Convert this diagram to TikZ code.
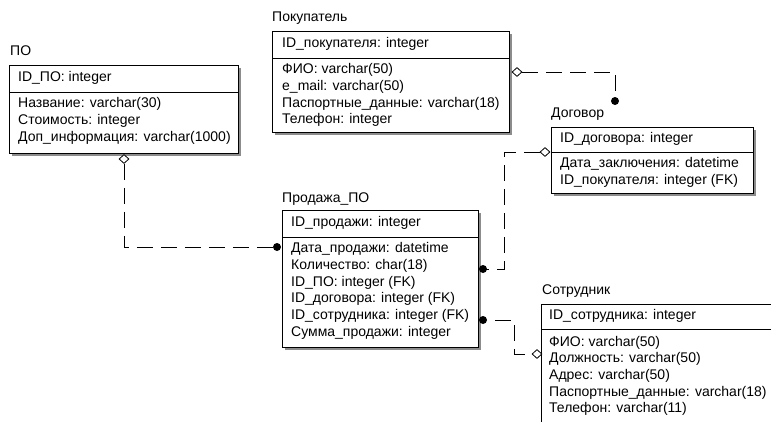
\documentclass[tikz,border=0pt]{standalone}
\usepackage{fontspec}
\setmainfont{Liberation Sans}
\usetikzlibrary{shapes.geometric}
\pgfdeclarelayer{paper}
\pgfdeclarelayer{links}
\pgfsetlayers{paper,links,main}

% entity box: name, left, top, width, height, y of the key divider
\newcommand\erbox[6]{%
  \fill[boxshadow] (#2+3,#3+3) rectangle ++(#4,#5);
  \node[ent, minimum width=#4pt, minimum height=#5pt] (#1) at (#2,#3) {};
  \draw[line width=1pt] (#2,#6) -- ++(#4,0);
}

\begin{document}
\begin{tikzpicture}[x=1pt,y=-1pt,
  every node/.style={font=\fontsize{14}{16}\selectfont},
  lbl/.style={anchor=mid west, inner sep=0pt},
  ent/.style={draw=black, fill=white, line width=1pt, anchor=north west, inner sep=0pt, outer sep=0pt},
  boxshadow/.style={fill=black!45},
  rel/.style={line width=1pt, dash pattern=on 16pt off 8pt},
  fkdot/.style={circle, fill=black, inner sep=0pt, minimum size=8pt},
  fkdiam/.style={diamond, draw=black, fill=white, line width=0.8pt, inner sep=0pt, minimum width=10pt, minimum height=9pt},
]
\clip (0,0) rectangle (771,421);
\begin{pgfonlayer}{paper}
  \fill[white] (0,0) rectangle (771,421);
\end{pgfonlayer}

% ---- ПО
\erbox{po}{9}{65}{229}{88}{92}
\node[lbl] (po-t) at (10,53) {ПО};
\node[lbl] (po-k) at (18,78.5) {ID\_ПО: integer};
\node[lbl] (po-1) at (18,105) {Название: varchar(30)};
\node[lbl] (po-2) at (18,121.7) {Стоимость: integer};
\node[lbl] (po-3) at (18,138.4) {Доп\_информация: varchar(1000)};

% ---- Покупатель
\erbox{buyer}{272}{31}{237}{101}{58}
\node[lbl] (buyer-t) at (272,19) {Покупатель};
\node[lbl] (buyer-k) at (282,44.5) {ID\_покупателя: integer};
\node[lbl] (buyer-1) at (282,71) {ФИО: varchar(50)};
\node[lbl] (buyer-2) at (282,87.7) {e\_mail: varchar(50)};
\node[lbl] (buyer-3) at (282,104.4) {Паспортные\_данные: varchar(18)};
\node[lbl] (buyer-4) at (282,121.1) {Телефон: integer};

% ---- Договор
\erbox{deal}{551}{127}{202}{66}{152}
\node[lbl] (deal-t) at (551,115) {Договор};
\node[lbl] (deal-k) at (560,139.5) {ID\_договора: integer};
\node[lbl] (deal-1) at (560,165) {Дата\_заключения: datetime};
\node[lbl] (deal-2) at (560,181.7) {ID\_покупателя: integer (FK)};

% ---- Продажа_ПО
\erbox{sale}{282}{210}{196}{137}{237}
\node[lbl] (sale-t) at (282,200) {Продажа\_ПО};
\node[lbl] (sale-k) at (291,223.5) {ID\_продажи: integer};
\node[lbl] (sale-1) at (291,250) {Дата\_продажи: datetime};
\node[lbl] (sale-2) at (291,266.7) {Количество: char(18)};
\node[lbl] (sale-3) at (291,283.4) {ID\_ПО: integer (FK)};
\node[lbl] (sale-4) at (291,300.1) {ID\_договора: integer (FK)};
\node[lbl] (sale-5) at (291,316.8) {ID\_сотрудника: integer (FK)};
\node[lbl] (sale-6) at (291,333.5) {Сумма\_продажи: integer};

% ---- Сотрудник
\erbox{staff}{541}{304}{260}{140}{329}
\node[lbl] (staff-t) at (542,292) {Сотрудник};
\node[lbl] (staff-k) at (549,317) {ID\_сотрудника: integer};
\node[lbl] (staff-1) at (549,343.5) {ФИО: varchar(50)};
\node[lbl] (staff-2) at (549,360.2) {Должность: varchar(50)};
\node[lbl] (staff-3) at (549,376.9) {Адрес: varchar(50)};
\node[lbl] (staff-4) at (549,393.6) {Паспортные\_данные: varchar(18)};
\node[lbl] (staff-5) at (549,410.3) {Телефон: varchar(11)};

% ---- relationship ends
\node[fkdiam] (m1) at (124,159) {};
\node[fkdot]  (d1) at (277,247) {};
\node[fkdiam] (m2) at (517,72) {};
\node[fkdot]  (d2) at (615,101) {};
\node[fkdiam] (m3) at (545,152) {};
\node[fkdot]  (d3) at (483,269) {};
\node[fkdiam] (m4) at (537,354) {};
\node[fkdot]  (d4) at (483,320) {};

% ---- relationship lines
\begin{pgfonlayer}{links}
  \draw[rel] (m1.south) |- (d1.center);
  \draw[rel] (m2.east) -| (d2.center);
  \draw[rel] (m3.west) -- ++(-35,0) |- (d3.center);
  \draw[rel, dash phase=16pt] (d4.east) -- ++(27,0) |- (m4.west);
\end{pgfonlayer}
\end{tikzpicture}
\end{document}
